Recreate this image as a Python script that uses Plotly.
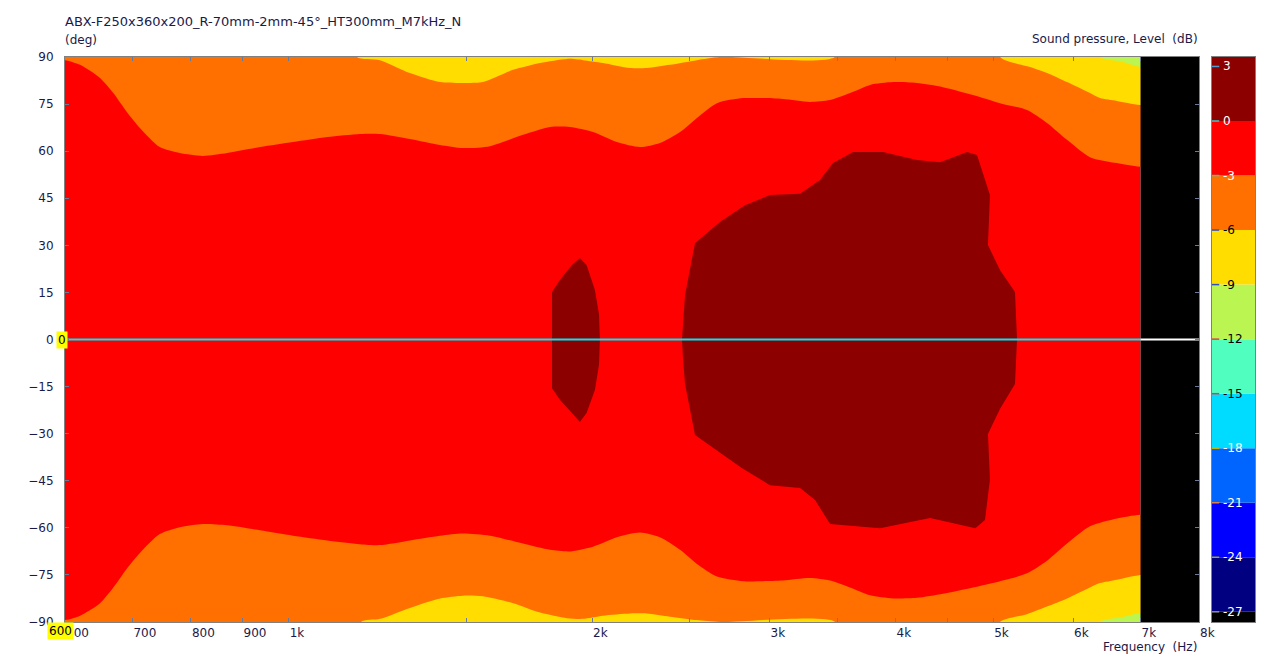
import numpy as np
import plotly.graph_objects as go

# ---------------- data ----------------
title_text = "ABX-F250x360x200_R-70mm-2mm-45°_HT300mm_M7kHz_N"

x_tick_vals = [600, 700, 800, 900, 1000, 1500, 2000, 2500, 3000, 3500, 4000, 4500, 5000, 6000, 7000, 8000]
x_tick_text = ["600", "700", "800", "900", "1k", "", "2k", "", "3k", "", "4k", "", "5k", "6k", "7k", "8k"]
y_tick_vals = list(range(-90, 91, 15))

# colour levels (dB): band lower edges and colours
level_lows = [-27.56, -27, -24, -21, -18, -15, -12, -9, -6, -3, 0]
level_highs = [-27, -24, -21, -18, -15, -12, -9, -6, -3, 0, 3.52]
level_colors = ["#000000", "#000080", "#0000FF", "#0064FF", "#00DCFF", "#50FFC0",
                "#BBF552", "#FFDD00", "#FF7000", "#FF0000", "#8C0000"]
level_labels = [3, 0, -3, -6, -9, -12, -15, -18, -21, -24, -27]
level_label_colors = ["white", "white", "white", "black", "black", "black", "black",
                      "white", "white", "white", "white"]
level_tick_colors = ["#4aa0d0", "#3cc8c8", "#3cc8a0", "#3050c0", "#3050c0", "#e04040",
                     "#e04040", "#c8b400", "#e08040", "#a0b000", "#909090"]

f_min, f_data_max, f_max = 600, 7000, 8000

# -3 dB contour (red / orange), upper and lower halves
freq_edge = [600, 621, 650, 670, 691, 712, 745, 780, 822, 869, 937, 1010, 1092, 1177, 1232,
             1319, 1413, 1489, 1584, 1708, 1817, 1902, 2004, 2117, 2231, 2335, 2445, 2541,
             2660, 2823, 2955, 3093, 3290, 3444, 3605, 3774, 3977, 4201, 4458, 4774, 5079,
             5401, 5653, 5918, 6236, 6633, 7000]
ang_m3_top = [89.0, 87.5, 83.3, 78.5, 72.5, 67.4, 61.3, 59.4, 58.5, 59.4, 61.3, 62.9, 64.5,
              65.5, 65.5, 63.9, 62.0, 61.0, 61.6, 65.2, 67.7, 67.7, 66.1, 62.9, 61.3, 62.6,
              66.1, 70.6, 75.3, 76.9, 76.9, 76.6, 75.7, 76.3, 78.5, 81.1, 82.0, 81.7, 80.4,
              77.9, 75.3, 73.1, 69.0, 63.6, 58.1, 56.2, 55.0]
ang_m3_bot = [-89.4, -88.0, -84.0, -79.0, -73.0, -68.0, -62.0, -59.8, -58.8, -59.2, -60.8,
              -62.5, -64.0, -65.2, -65.5, -64.0, -62.5, -61.8, -62.5, -65.0, -67.0, -67.5,
              -66.0, -63.0, -61.5, -63.0, -67.0, -71.5, -75.5, -77.0, -77.0, -76.8, -76.0,
              -76.8, -79.0, -81.5, -82.5, -82.3, -81.0, -79.0, -77.0, -74.5, -70.5, -65.0,
              -59.5, -57.0, -55.8]

# -6 dB contour (orange / yellow)
freq_m6_top_a = [1169, 1232, 1319, 1413, 1489, 1559, 1670, 1776, 1889, 1959, 2050, 2181, 2267, 2389, 2541, 2678]
ang_m6_top_a = [90, 89.0, 84.9, 82.0, 81.7, 82.0, 85.9, 88.1, 89.4, 89.0, 88.1, 86.5, 86.5, 87.5, 89.0, 90]
freq_m6_top_b = [5079, 5476, 5653, 5918, 6236, 6381, 6633, 7000]
ang_m6_top_b = [90, 86.5, 84.9, 82.0, 78.5, 76.9, 76.0, 74.7]
freq_m6_bot_a = [1180, 1232, 1319, 1413, 1489, 1559, 1670, 1776, 1889, 1959, 2050, 2181, 2267, 2389, 2541, 2680]
ang_m6_bot_a = [-90, -89.0, -85.5, -82.5, -81.6, -81.8, -84.0, -87.0, -88.8, -89.0, -88.0, -87.3, -87.3, -88.3, -89.4, -90]
freq_m6_bot_b = [5079, 5401, 5653, 5918, 6236, 6381, 6633, 7000]
ang_m6_bot_b = [-90, -87.5, -85.1, -82.5, -79.0, -77.6, -76.5, -75.0]

# -9 dB contour (yellow / green)
freq_m9 = [6381, 6700, 7000]
ang_m9_top = [90, 88.6, 86.9]
ang_m9_bot = [-90, -88.5, -87.1]

# 0 dB contour (dark red islands)
freq_0_small = [1825, 1859, 1910, 1945, 1975, 2013, 2032, 2036, 2032, 2013, 1975, 1945, 1910, 1859, 1825]
ang_0_small = [15.1, 19.0, 23.7, 26.0, 23.7, 15.8, 8.0, 0, -8.0, -16.1, -23.4, -26.3, -23.4, -19.3, -15.5]
freq_0_big = [2456, 2462, 2473, 2530, 2678, 2836, 3002, 3216, 3366, 3468, 3630, 3887, 4201, 4428,
              4709, 4818, 4907, 4963, 4940, 5079, 5255, 5279, 5255, 5079, 4940, 4963, 4907, 4800,
              4328, 3861, 3444, 3328, 3216, 3002, 2815, 2530, 2473, 2462]
ang_0_big = [0, 6.4, 14.2, 30.7, 37.4, 42.8, 46.0, 46.4, 50.8, 56.2, 59.7, 59.7, 57.2, 56.5,
             59.7, 58.8, 50.8, 46.0, 30.1, 22.1, 15.1, 0, -14.2, -22.1, -30.1, -44.5, -57.5, -60.1,
             -56.9, -60.1, -58.8, -51.1, -47.3, -46.4, -40.9, -30.4, -14.2, -6.4]

# ---------------- figure ----------------
C_DARKRED, C_RED, C_ORANGE, C_YELLOW, C_GREEN = (level_colors[10], level_colors[9],
                                                 level_colors[8], level_colors[7], level_colors[6])
TXT = "#1a1a4a"
FONT = "DejaVu Sans"

fig = go.Figure()


def region(xs, ys, color, smooth=False):
    line = dict(width=0, color=color)
    if smooth:
        line.update(shape="spline", smoothing=0.7)
    fig.add_trace(go.Scatter(x=xs, y=ys, mode="lines", fill="toself", fillcolor=color,
                             line=line, hoverinfo="skip", xaxis="x", yaxis="y"))


def band(xs, ys, edge, color):
    # closed outside the visible angle range so the smoothing stays hidden
    out = 1.08 * edge
    region([xs[0]] + xs + [xs[-1] * 1.3, xs[-1] * 1.3, xs[0]],
           [out] + ys + [ys[-1], out, out], color, smooth=True)


region([f_min, f_data_max, f_data_max, f_min], [-90, -90, 90, 90], C_RED)
band([f_min * 0.9] + freq_edge, [ang_m3_top[0]] + ang_m3_top, 90, C_ORANGE)
band([f_min * 0.9] + freq_edge, [ang_m3_bot[0]] + ang_m3_bot, -90, C_ORANGE)
band(freq_m6_top_a, ang_m6_top_a, 90, C_YELLOW)
band(freq_m6_top_b, ang_m6_top_b, 90, C_YELLOW)
band(freq_m6_bot_a, ang_m6_bot_a, -90, C_YELLOW)
band(freq_m6_bot_b, ang_m6_bot_b, -90, C_YELLOW)
band(freq_m9, ang_m9_top, 90, C_GREEN)
band(freq_m9, ang_m9_bot, -90, C_GREEN)
region(freq_0_small, ang_0_small, C_DARKRED)
region(freq_0_big, ang_0_big, C_DARKRED)
# no data above 7 kHz
region([f_data_max, f_max * 1.2, f_max * 1.2, f_data_max], [-100, -100, 100, 100], "#000000")

# cursor line at 0 deg
fig.add_trace(go.Scatter(x=[f_min, f_data_max], y=[0, 0], mode="lines",
                         line=dict(color="#00E8F8", width=2), hoverinfo="skip"))
fig.add_trace(go.Scatter(x=[f_data_max, f_max], y=[0, 0], mode="lines",
                         line=dict(color="#FFFFFF", width=2), hoverinfo="skip"))

# colour scale bar
fig.add_trace(go.Bar(x=[0] * len(level_lows),
                     y=[h - l for l, h in zip(level_lows, level_highs)],
                     base=level_lows, width=1,
                     marker=dict(color=level_colors, line=dict(width=0)),
                     xaxis="x2", yaxis="y2", hoverinfo="skip"))
fig.add_trace(go.Scatter(x=[-0.43] * len(level_labels), y=level_labels, mode="markers",
                         marker=dict(symbol="line-ew", size=6,
                                     line=dict(width=1.5, color=level_tick_colors)),
                         xaxis="x2", yaxis="y2", hoverinfo="skip"))

# the page body adds an 8 px margin: lay the figure out in screen pixels minus that offset
PAGE = 8
W, H = 1270 - PAGE, 658 - PAGE
P_LEFT, P_TOP, P_RIGHT, P_BOTTOM = 65 - PAGE, 57 - PAGE, 1199 - PAGE, 622 - PAGE
CB_LEFT, CB_RIGHT = 1212 - PAGE, 1255 - PAGE
ML, MT, MR, MB = P_LEFT, P_TOP, W - CB_RIGHT, H - P_BOTTOM
PW, PH = W - ML - MR, H - MT - MB
main_right = (P_RIGHT - ML) / PW
cb_left = (CB_LEFT - ML) / PW


def py(screen_y):
    return (P_BOTTOM + PAGE - screen_y) / PH


def px(screen_x):
    return (screen_x - PAGE - ML) / PW


annotations = []
for v, c in zip(level_labels, level_label_colors):
    annotations.append(dict(x=-0.5, xref="x2", y=v, yref="y2", text=str(v), showarrow=False,
                            xanchor="left", yanchor="middle", xshift=9,
                            font=dict(family=FONT, size=12, color=c)))
annotations += [
    dict(x=px(63), xref="paper", y=py(22), yref="paper", text=title_text,
         showarrow=False, xanchor="left", yanchor="middle",
         font=dict(family=FONT, size=13, color=TXT)),
    dict(x=px(63), xref="paper", y=py(40), yref="paper", text="(deg)",
         showarrow=False, xanchor="left", yanchor="middle",
         font=dict(family=FONT, size=12, color=TXT)),
    dict(x=px(1200), xref="paper", y=py(39), yref="paper",
         text="Sound pressure, Level  (dB)", showarrow=False, xanchor="right", yanchor="middle",
         font=dict(family=FONT, size=12, color=TXT)),
    dict(x=px(1199), xref="paper", y=py(647), yref="paper",
         text="Frequency  (Hz)", showarrow=False, xanchor="right", yanchor="middle",
         font=dict(family=FONT, size=12, color=TXT)),
    dict(x=px(56), xref="paper", y=0, yref="y", text="0", showarrow=False,
         xanchor="left", yanchor="middle", bgcolor="#FFFF00", borderpad=1,
         font=dict(family=FONT, size=12, color="#000000")),
    dict(x=px(47), xref="paper", y=py(622), yref="paper", text="600", showarrow=False,
         xanchor="left", yanchor="top", bgcolor="#FFFF00", borderpad=1,
         font=dict(family=FONT, size=12, color="#000000")),
]

fig.update_layout(
    width=W, height=H, margin=dict(l=ML, r=MR, t=MT, b=MB, autoexpand=False),
    paper_bgcolor="white", plot_bgcolor="white", showlegend=False,
    font=dict(family=FONT, size=12, color=TXT), hovermode=False,
    xaxis=dict(type="log", range=[np.log10(f_min), np.log10(f_max)], domain=[0, main_right],
               tickvals=x_tick_vals, ticktext=x_tick_text, ticks="inside", ticklen=4,
               tickcolor="#6b7a99", showline=True, linecolor="#808080", mirror="ticks",
               showgrid=False, zeroline=False, ticklabelposition="outside right",
               automargin=False, tickfont=dict(family=FONT, size=12, color=TXT)),
    yaxis=dict(range=[-90, 90], tickvals=y_tick_vals, ticks="inside", ticklen=4,
               tickcolor="#6b7a99", showline=True, linecolor="#808080", mirror="ticks",
               showgrid=False, zeroline=False, automargin=False, ticklabelstandoff=8,
               tickfont=dict(family=FONT, size=12, color=TXT)),
    xaxis2=dict(domain=[cb_left, 1], range=[-0.5, 0.5], anchor="y2", showticklabels=False,
                ticks="", showline=True, linecolor="#808080", mirror=True, showgrid=False,
                zeroline=False, automargin=False),
    yaxis2=dict(domain=[0, 1], range=[level_lows[0], level_highs[-1]], anchor="x2",
                showticklabels=False, ticks="", showline=True, linecolor="#808080",
                mirror=True, showgrid=False, zeroline=False, automargin=False),
    annotations=annotations,
)

fig.write_html("out.html")
